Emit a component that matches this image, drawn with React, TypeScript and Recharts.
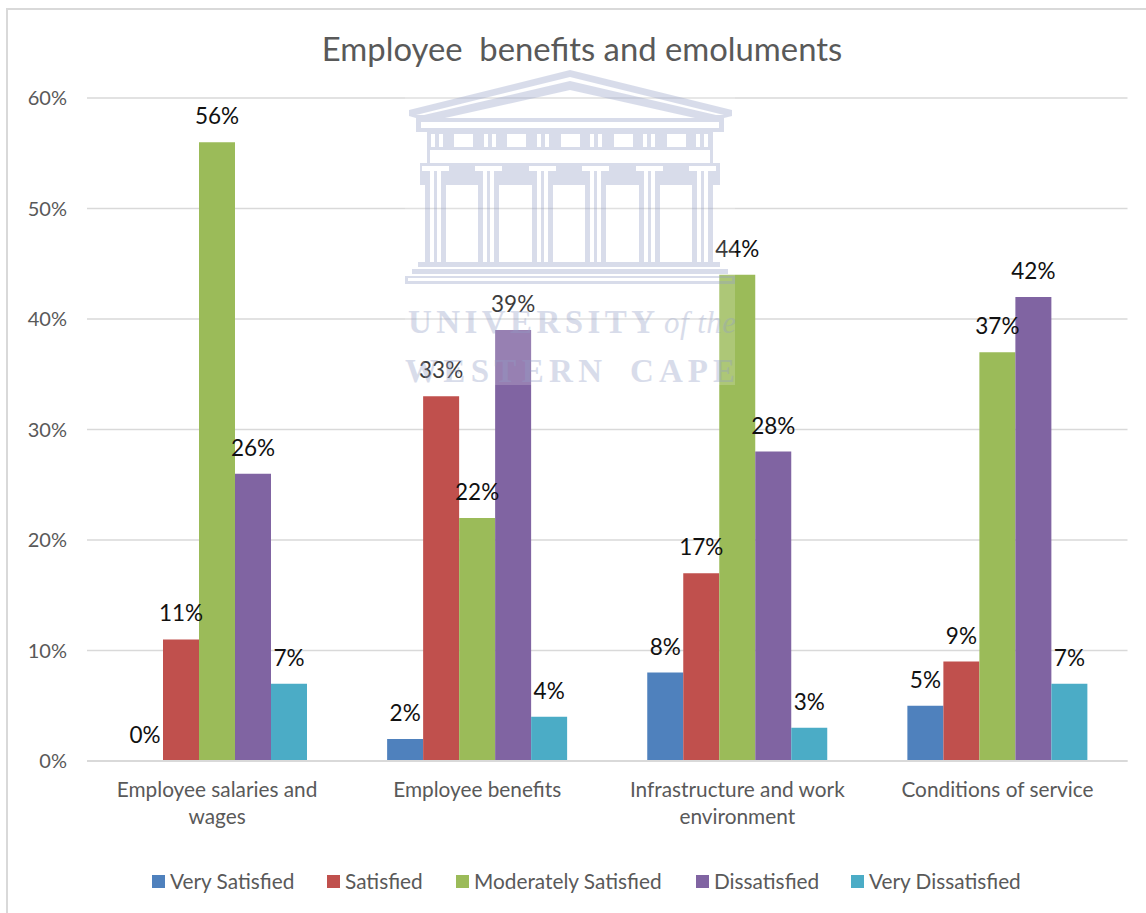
import { BarChart, Bar, CartesianGrid, LabelList, XAxis, YAxis } from "recharts";

const CATEGORIES = [
  "Employee salaries and wages",
  "Employee benefits",
  "Infrastructure and work environment",
  "Conditions of service",
];
const VERY_SATISFIED = [0, 2, 8, 5];
const SATISFIED = [11, 33, 17, 9];
const MODERATELY_SATISFIED = [56, 22, 44, 37];
const DISSATISFIED = [26, 39, 28, 42];
const VERY_DISSATISFIED = [7, 4, 3, 7];
const Y_TICKS = [0, 10, 20, 30, 40, 50, 60];

const FONT = "Lato, sans-serif";
const INK = "#595959";
const GRIDLINE = "#d9d9d9";
const CREST = "#929ec6";
const TICK_CHARS_PER_LINE = 23;

const SERIES = [
  { key: "verySatisfied", name: "Very Satisfied", color: "#4f81bd", left: 152 },
  { key: "satisfied", name: "Satisfied", color: "#c0504d", left: 327 },
  { key: "moderatelySatisfied", name: "Moderately Satisfied", color: "#9bbb59", left: 456 },
  { key: "dissatisfied", name: "Dissatisfied", color: "#8064a2", left: 696 },
  { key: "veryDissatisfied", name: "Very Dissatisfied", color: "#4bacc6", left: 851 },
];

const rows = CATEGORIES.map((name, i) => ({
  name,
  verySatisfied: VERY_SATISFIED[i],
  satisfied: SATISFIED[i],
  moderatelySatisfied: MODERATELY_SATISFIED[i],
  dissatisfied: DISSATISFIED[i],
  veryDissatisfied: VERY_DISSATISFIED[i],
}));

const COLUMN_X = [425, 478, 532, 585, 639, 692];
const METOPE_X = [454, 507, 561, 614, 667];
const TRIGLYPH_X = [431, 484, 537, 590, 643, 696];

function box(x: number, y: number, w: number, h: number) {
  return `M${x} ${y} h${w} v${h} h${-w} Z `;
}

function wrapLabel(label: string) {
  const lines: string[] = [];
  for (const word of label.split(" ")) {
    const last = lines[lines.length - 1];
    if (last && last.length + word.length + 1 <= TICK_CHARS_PER_LINE) {
      lines[lines.length - 1] = `${last} ${word}`;
    } else {
      lines.push(word);
    }
  }
  return lines;
}

// University crest printed across the page, above the bars
function Crest() {
  const frieze =
    box(427, 132, 286, 18) +
    METOPE_X.map((x) => box(x, 134, 19, 13)).join("") +
    TRIGLYPH_X.map((x) => box(x, 134, 4, 13) + box(x + 8, 134, 4, 13)).join("");
  const band =
    box(420, 163, 300, 22) +
    COLUMN_X.map((x) => box(x - 3, 166, 27, 5) + box(x + 5, 171, 4, 14) + box(x + 12, 171, 4, 14)).join("");
  return (
    <svg width={1146} height={913} style={{ position: "absolute", left: 0, top: 0, pointerEvents: "none" }}>
      <rect x={405} y={70} width={330} height={315} fill="#fff" opacity={0.18} />
      <g fill={CREST} opacity={0.35}>
        <path
          fillRule="evenodd"
          d="M570 70 L732 110 L732 116 L724 118 L724 132 L416 132 L416 118 L409 116 L409 110 Z
             M416 115 L570 77 L724 115 L716 115 L570 81 L424 115 Z
             M445 118 L570 90 L695 118 Z
             M421 122 L719 122 L719 128 L421 128 Z"
        />
        <path fillRule="evenodd" d={frieze} />
        <rect x={427} y={150} width={3} height={13} />
        <rect x={710} y={150} width={3} height={13} />
        <path fillRule="evenodd" d={band} />
        {COLUMN_X.map((x) => (
          <g key={x}>
            <rect x={x} y={185} width={5} height={77} />
            <rect x={x + 9} y={185} width={3} height={77} />
            <rect x={x + 16} y={185} width={5} height={77} />
          </g>
        ))}
        <rect x={418} y={262} width={302} height={5} />
        <rect x={412} y={269} width={316} height={5} />
        <path fillRule="evenodd" d={box(405, 276, 330, 8) + box(408, 278, 324, 3)} />
        <g fontFamily="'Liberation Serif', serif" fontWeight={700} fontSize={33}>
          <text x={408} y={333} textLength={247} lengthAdjust="spacing">UNIVERSITY</text>
          <text x={664} y={333} textLength={72} lengthAdjust="spacing" fontStyle="italic" fontWeight={400} fontSize={31}>
            of the
          </text>
          <text x={405} y={382} textLength={197} lengthAdjust="spacing">WESTERN</text>
          <text x={630} y={382} textLength={105} lengthAdjust="spacing">CAPE</text>
        </g>
      </g>
    </svg>
  );
}

function CategoryTick({ x, y, payload }: { x?: number; y?: number; payload?: { value: string } }) {
  return (
    <text x={x} y={(y ?? 0) + 28} textAnchor="middle" fontSize={20.8} fontFamily={FONT} fill={INK}>
      {wrapLabel(payload?.value ?? "").map((line, i) => (
        <tspan key={line} x={x} dy={i === 0 ? 0 : 27}>
          {line}
        </tspan>
      ))}
    </text>
  );
}

export default function App() {
  return (
    <div style={{ position: "absolute", left: 0, top: 0, width: 1146, height: 913, background: "#fff", overflow: "hidden", fontFamily: FONT }}>
      {/* chart frame: only the left and top edges fall inside the page */}
      <div style={{ position: "absolute", left: 6, top: 8, width: 1200, height: 1000, border: `2px solid ${GRIDLINE}` }} />
      <BarChart
        width={1146}
        height={913}
        data={rows}
        margin={{ top: 98, right: 18.5, bottom: 0, left: 0 }}
        barGap={0}
        barCategoryGap={40}
        style={{ position: "absolute", left: 0, top: 0 }}
      >
        <CartesianGrid stroke={GRIDLINE} strokeWidth={1.5} vertical={false} />
        <XAxis
          dataKey="name"
          height={152}
          interval={0}
          tickLine={false}
          axisLine={{ stroke: GRIDLINE, strokeWidth: 2 }}
          tick={<CategoryTick />}
        />
        <YAxis
          width={87}
          domain={[0, 60]}
          ticks={Y_TICKS}
          tickFormatter={(v: number) => `${v}%`}
          axisLine={false}
          tickLine={false}
          tick={{ fontSize: 20, fill: INK, fontFamily: FONT }}
          tickMargin={14}
        />
        {SERIES.map((s) => (
          <Bar
            key={s.key}
            dataKey={s.key}
            name={s.name}
            fill={s.color}
            barSize={36}
            minPointSize={0.01}
            isAnimationActive={false}
          >
            <LabelList
              dataKey={s.key}
              position="top"
              offset={18}
              formatter={(v: number) => `${v}%`}
              style={{ fontSize: 22.5, fill: "#111", fontFamily: FONT }}
            />
          </Bar>
        ))}
      </BarChart>
      <div style={{ position: "absolute", left: 0, width: 1146, top: 27, textAlign: "center", paddingLeft: 18, boxSizing: "border-box", fontSize: 32.8, lineHeight: "44px", color: INK, whiteSpace: "pre" }}>
        {"Employee  benefits and emoluments"}
      </div>
      {SERIES.map((s) => (
        <div key={s.key} style={{ position: "absolute", left: s.left, top: 867, display: "flex", alignItems: "center", fontSize: 20.8, lineHeight: "28px", color: INK, whiteSpace: "nowrap" }}>
          <span style={{ width: 13, height: 13, background: s.color, marginRight: 5 }} />
          {s.name}
        </div>
      ))}
      <Crest />
    </div>
  );
}
